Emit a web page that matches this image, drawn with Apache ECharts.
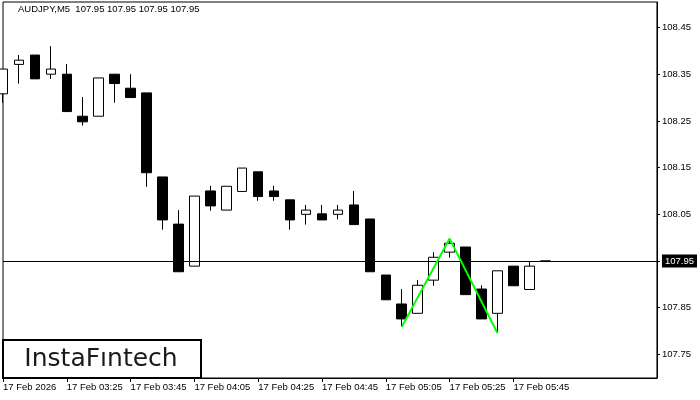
<!DOCTYPE html>
<html><head><meta charset="utf-8">
<script src="https://cdn.jsdelivr.net/npm/echarts@6/dist/echarts.min.js"></script>
<style>html,body{margin:0;padding:0;background:#fff}#c{width:700px;height:400px}</style>
</head><body><div id="c"></div>
<script>
const headerText = 'AUDJPY,M5  107.95 107.95 107.95 107.95';
const logoText = 'InstaF\u0131ntech';
const times = ['03:05','03:10','03:15','03:20','03:25','03:30','03:35','03:40','03:45','03:50','03:55',
  '04:00','04:05','04:10','04:15','04:20','04:25','04:30','04:35','04:40','04:45','04:50','04:55',
  '05:00','05:05','05:10','05:15','05:20','05:25','05:30','05:35','05:40','05:45','05:50','05:55',
  '06:00','06:05','06:10','06:15','06:20','06:25','06:30'];
const tickDate = '17 Feb';
const firstTickLabel = '17 Feb 2026';
const open  = [108.308,108.371,108.391,108.350,108.350,108.260,108.260,108.350,108.320,108.310,108.130,
  108.029,107.939,108.100,108.059,108.099,108.141,108.100,108.081,108.050,108.051,108.050,108.070,
  108.040,107.920,107.858,107.838,107.909,107.969,107.980,107.890,107.838,107.939,107.889,107.950];
const close = [108.361,108.380,108.340,108.361,108.270,108.248,108.342,108.330,108.300,108.139,108.038,
  107.927,108.089,108.068,108.110,108.149,108.088,108.088,108.038,108.059,108.038,108.059,108.028,
  107.927,107.867,107.826,107.898,107.958,107.988,107.878,107.826,107.929,107.897,107.939,107.950];
const low   = [108.289,108.330,108.340,108.340,108.270,108.240,108.260,108.289,108.300,108.109,108.017,
  107.927,107.939,108.058,108.059,108.099,108.079,108.079,108.017,108.028,108.038,108.039,108.028,
  107.927,107.867,107.809,107.838,107.897,107.957,107.878,107.826,107.796,107.897,107.889,107.950];
const high  = [108.361,108.391,108.391,108.410,108.372,108.301,108.342,108.350,108.350,108.310,108.130,
  108.059,108.089,108.111,108.110,108.149,108.141,108.111,108.081,108.070,108.070,108.070,108.100,
  108.040,107.920,107.890,107.909,107.969,107.998,107.980,107.898,107.929,107.939,107.950,107.950];
const yTicks = [107.75,107.85,107.95,108.05,108.15,108.25,108.35,108.45];
const currentPrice = 107.95;
const patternIdx = [25,28,31];
const patternVal = [107.809,107.998,107.796];

const candleData = open.map((o,i)=>[o, close[i], low[i], high[i]]);
const patternData = patternIdx.map((k,i)=>[times[k], patternVal[i]]);
const FONT = '"Liberation Sans", Arial, sans-serif';

const chart = echarts.init(document.getElementById('c'), null, {renderer:'canvas'});
chart.setOption({
  animation:false,
  backgroundColor:'#fff',
  grid:{left:3, right:41, top:2, bottom:22, show:true, borderColor:'#000', borderWidth:1, backgroundColor:'#fff'},
  xAxis:{
    type:'category', data:times, boundaryGap:false,
    axisLine:{show:true, lineStyle:{color:'#000', width:1}},
    axisTick:{show:true, inside:false, length:4, lineStyle:{color:'#000'}, interval:(i)=>i%4===0 && i<=32},
    axisLabel:{show:true, interval:(i)=>i%4===0 && i<=32, align:'left', margin:4, color:'#000',
      fontFamily:FONT, fontSize:9.5,
      formatter:(v,i)=> i===0 ? firstTickLabel : tickDate+' '+v},
    splitLine:{show:false}
  },
  yAxis:{
    type:'value', position:'right', min:107.6995, max:108.5046, scale:true,
    axisLine:{show:true, lineStyle:{color:'#000', width:1}},
    axisTick:{show:true, inside:false, length:3, lineStyle:{color:'#000'}, customValues:yTicks},
    axisLabel:{show:true, margin:5, color:'#000', fontFamily:FONT, fontSize:9.5, customValues:yTicks,
      formatter:(v)=> Math.abs(v-currentPrice)<1e-6 ? '{c|'+v.toFixed(2)+'}' : v.toFixed(2),
      rich:{c:{backgroundColor:'#000', color:'#fff', fontFamily:FONT, fontSize:9.5, padding:[2,3,1,3]}}},
    splitLine:{show:false}
  },
  series:[
    {
      type:'candlestick', data:candleData, barWidth:10, clip:true,
      itemStyle:{color:'#fff', color0:'#000', borderColor:'#000', borderColor0:'#000', borderWidth:1},
      markLine:{silent:true, symbol:'none', label:{show:false},
        lineStyle:{color:'#000', width:1, type:'solid'},
        data:[{yAxis:currentPrice}]}
    },
    {
      type:'line', data:patternData, symbol:'none', lineStyle:{color:'#00ff00', width:2}, z:5
    }
  ],
  graphic:[
    {type:'text', left:18, top:4, style:{text:headerText, font:'9.5px '+FONT, fill:'#000'}},
    {type:'rect', shape:{x:3, y:340, width:198, height:38}, style:{fill:'#fff', stroke:'#000', lineWidth:2}, z:10},
    {type:'text', x:101, y:359, style:{text:logoText, font:'25px "DejaVu Sans", sans-serif', fill:'#1a1a1a', align:'center', verticalAlign:'middle'}, z:11}
  ]
});
</script></body></html>
